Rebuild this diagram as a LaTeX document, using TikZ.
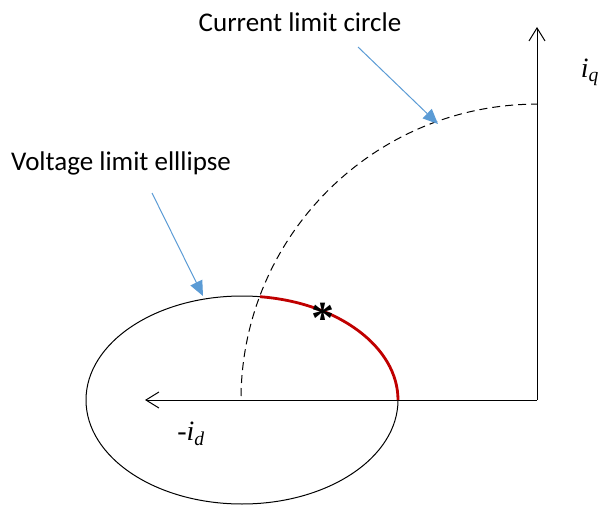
\documentclass[tikz,border=0pt]{standalone}
\usepackage{fontspec}
\setmainfont{Carlito}
\newfontfamily\tnr{Liberation Serif}
\usetikzlibrary{arrows.meta}

\definecolor{callout}{RGB}{91,155,213}
\definecolor{feasible}{RGB}{192,0,0}

\begin{document}
\begin{tikzpicture}[
  x=1pt, y=-1pt,
  every node/.style={inner sep=0pt},
  axis/.style     ={line width=1pt, -{Straight Barb[length=13pt, width=16pt]}},
  callarrow/.style={callout, line width=1pt, -{Triangle[length=15pt, width=13pt]}},
  calltext/.style ={font=\fontsize{27}{30}\selectfont},
  vartext/.style  ={font=\fontsize{28}{30}\selectfont\tnr\itshape}
]
\useasboundingbox (0,0) rectangle (600,511);

% axes
\coordinate (O)    at (537,400);
\coordinate (qtip) at (537,27);
\coordinate (dtip) at (145,400);
\draw[axis] (O) -- (qtip);
\draw[axis] (O) -- (dtip);

% limit curves
\coordinate (E) at (242,400);
\draw[line width=1pt] (E) ellipse [x radius=156, y radius=104];
\draw[dashed, dash pattern=on 8pt off 5pt, line width=1pt]
  (O) ++(-296,-4) arc[start angle=180.8, end angle=270, radius=296];
\draw[feasible, line width=2.8pt]
  (E) ++(156,0) arc[start angle=0, end angle=-83.4, x radius=156, y radius=104];
\node[font=\fontsize{46}{48}\selectfont\tnr\bfseries] (opt) at (323,318) {*};

% labels
\node[calltext] (circ) at (300,22)  {Current limit circle};
\node[calltext] (elli) at (121,163) {Voltage limit elllipse};
\node[vartext]  (iq)   at (590,72)  {i\textsubscript{q}};
\node[vartext]  (id)   at (191,434) {{\upshape -}i\textsubscript{d}};

\coordinate (cfrom) at (358,47);
\coordinate (cto)   at (438,124);
\coordinate (vfrom) at (152,193);
\coordinate (vto)   at (203,296);
\draw[callarrow] (cfrom) -- (cto);
\draw[callarrow] (vfrom) -- (vto);

\end{tikzpicture}
\end{document}
